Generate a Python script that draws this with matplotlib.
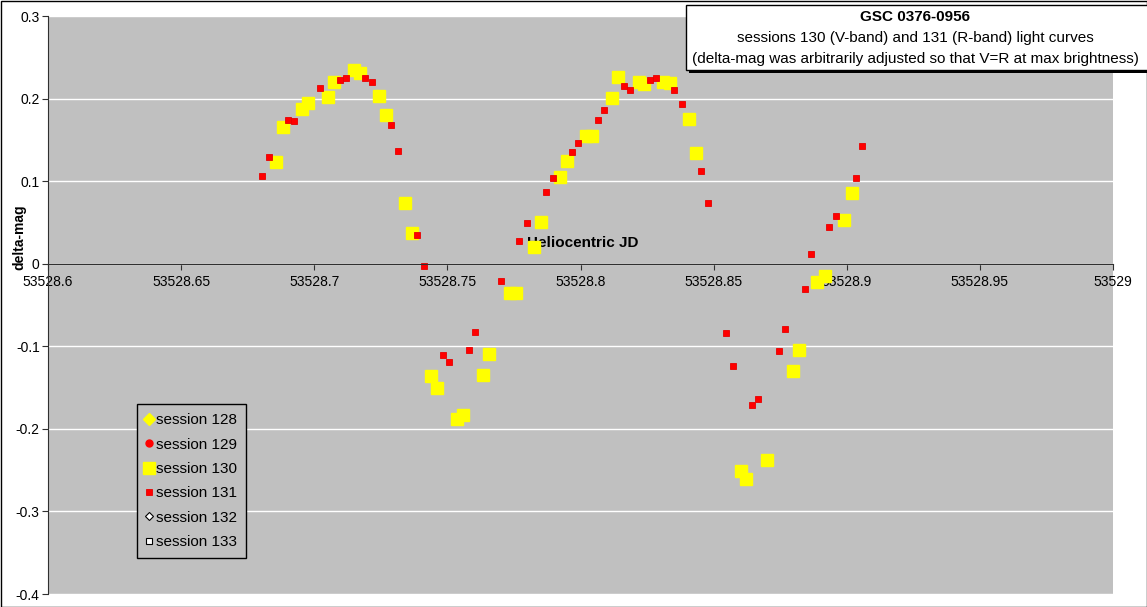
import numpy as np
import matplotlib
matplotlib.use('Agg')
import matplotlib.pyplot as plt
from matplotlib.patches import Rectangle

plt.rcParams['font.family'] = ['Liberation Sans', 'DejaVu Sans']

# session 130 (V-band), yellow squares
jd_130 = [53528.6858, 53528.6884, 53528.6955, 53528.6978, 53528.7053, 53528.7076,
          53528.7151, 53528.7173, 53528.7245, 53528.7271, 53528.7342, 53528.7369,
          53528.7440, 53528.7462, 53528.7538, 53528.7560, 53528.7635, 53528.7658,
          53528.7734, 53528.7756, 53528.7826, 53528.7853, 53528.7923, 53528.7951,
          53528.8022, 53528.8044, 53528.8120, 53528.8142, 53528.8218, 53528.8240,
          53528.8311, 53528.8337, 53528.8409, 53528.8435, 53528.8603, 53528.8623,
          53528.8702, 53528.8799, 53528.8822, 53528.8888, 53528.8920, 53528.8988,
          53528.9018]
mag_130 = [0.1236, 0.1659, 0.1877, 0.1941, 0.2022, 0.2203,
           0.2340, 0.2312, 0.2034, 0.1804, 0.0740, 0.0369,
           -0.1364, -0.1509, -0.1880, -0.1836, -0.1352, -0.1098,
           -0.0360, -0.0360, 0.0208, 0.0510, 0.1054, 0.1248,
           0.1542, 0.1550, 0.2010, 0.2264, 0.2195, 0.2174,
           0.2203, 0.2183, 0.1755, 0.1345, -0.2509, -0.2606,
           -0.2380, -0.1304, -0.1050, -0.0227, -0.0148, 0.0534,
           0.0861]

# session 131 (R-band), red squares
jd_131 = [53528.6804, 53528.6830, 53528.6902, 53528.6923, 53528.7021, 53528.7097,
          53528.7118, 53528.7190, 53528.7217, 53528.7287, 53528.7315, 53528.7386,
          53528.7411, 53528.7484, 53528.7506, 53528.7580, 53528.7603, 53528.7702,
          53528.7770, 53528.7798, 53528.7870, 53528.7896, 53528.7967, 53528.7990,
          53528.8065, 53528.8088, 53528.8163, 53528.8185, 53528.8261, 53528.8283,
          53528.8353, 53528.8381, 53528.8452, 53528.8478, 53528.8548, 53528.8571,
          53528.8646, 53528.8668, 53528.8745, 53528.8767, 53528.8843, 53528.8865,
          53528.8935, 53528.8961, 53528.9033, 53528.9059]
mag_131 = [0.1067, 0.1296, 0.1735, 0.1723, 0.2122, 0.2222,
           0.2252, 0.2252, 0.2195, 0.1678, 0.1364, 0.0348,
           -0.0022, -0.1106, -0.1195, -0.1050, -0.0825, -0.0208,
           0.0281, 0.0493, 0.0865, 0.1037, 0.1352, 0.1466,
           0.1735, 0.1865, 0.2150, 0.2106, 0.2222, 0.2252,
           0.2106, 0.1937, 0.1122, 0.0735, -0.0837, -0.1236,
           -0.1707, -0.1635, -0.1062, -0.0792, -0.0308, 0.0123,
           0.0450, 0.0578, 0.1034, 0.1424]

# sessions with no points in this window
jd_128, mag_128 = [], []
jd_129, mag_129 = [], []
jd_132, mag_132 = [], []
jd_133, mag_133 = [], []

x_ticks = np.arange(53528.6, 53529.0001, 0.05)
x_labels = ['53528.6', '53528.65', '53528.7', '53528.75', '53528.8',
            '53528.85', '53528.9', '53528.95', '53529']
y_ticks = np.arange(-0.4, 0.3001, 0.1)
y_labels = ['-0.4', '-0.3', '-0.2', '-0.1', '0', '0.1', '0.2', '0.3']

fig = plt.figure(figsize=(11.47, 6.07), dpi=100)
ax = fig.add_axes([48/1147, 13/607, 1065/1147, 578/607])
ax.set_facecolor('#C0C0C0')

ax.plot(jd_128, mag_128, ls='none', marker='D', ms=6.5, color='#FFFF00',
        mec='#FFFF00', label='session 128')
ax.plot(jd_129, mag_129, ls='none', marker='o', ms=5, color='#FF0000',
        mec='#FF0000', label='session 129')
ax.plot(jd_130, mag_130, ls='none', marker='s', ms=8, color='#FFFF00',
        mec='#FFFF00', label='session 130')
ax.plot(jd_131, mag_131, ls='none', marker='s', ms=5, color='#FF0000',
        mec='#E80000', mew=0.6, label='session 131')
ax.plot(jd_132, mag_132, ls='none', marker='D', ms=4, color='white',
        mec='black', mew=0.8, label='session 132')
ax.plot(jd_133, mag_133, ls='none', marker='s', ms=4.5, color='white',
        mec='black', mew=0.8, label='session 133')

ax.set_xlim(53528.6, 53529.0)
ax.set_ylim(-0.4, 0.3)
ax.set_xticks(x_ticks)
ax.set_xticklabels(x_labels)
ax.set_yticks(y_ticks)
ax.set_yticklabels(y_labels)

ax.grid(True, axis='y', color='white', lw=1)
ax.set_axisbelow(True)

ax.spines['bottom'].set_position(('data', 0))
ax.spines['top'].set_visible(False)
ax.spines['right'].set_visible(False)
ax.spines['left'].set_color('#303030')
ax.spines['bottom'].set_color('#303030')
ax.tick_params(axis='x', direction='out', length=4, pad=4, labelsize=10,
               color='#303030')
ax.tick_params(axis='y', direction='out', length=4, pad=2, labelsize=10,
               color='#303030')

ax.set_xlabel('Heliocentric JD', fontweight='bold', fontsize=11)
ax.xaxis.set_label_coords(0.502, 0.607)
ax.xaxis.label.set_va('center')
ax.set_ylabel('delta-mag', fontweight='bold', fontsize=10)
ax.yaxis.set_label_coords(-0.0204, 0.618)

leg = ax.legend(loc='upper left', bbox_to_anchor=(0.0836, 0.3287),
                borderaxespad=0, fontsize=11, frameon=True, fancybox=False,
                handlelength=0.4, handletextpad=0.25, borderpad=0.6,
                labelspacing=0.68)
leg.get_frame().set_facecolor('#C0C0C0')
leg.get_frame().set_edgecolor('black')
leg.get_frame().set_linewidth(1)
leg.get_frame().set_alpha(1)

# outer chart border
fig.patches.append(Rectangle((0.5/1147, 0.5/607), 1 - 1/1147, 1 - 1/607,
                             transform=fig.transFigure, fill=False,
                             edgecolor='black', lw=1))

# title box with shadow
fig.patches.append(Rectangle((689/1147, 1 - 73/607), 470/1147, 66/607,
                             transform=fig.transFigure, facecolor='black',
                             edgecolor='none', zorder=5))
fig.patches.append(Rectangle((686/1147, 1 - 70/607), 470/1147, 65/607,
                             transform=fig.transFigure, facecolor='white',
                             edgecolor='black', lw=1, zorder=6))
fig.text(0.798, 1 - 17/607, 'GSC 0376-0956', ha='center', va='center',
         fontsize=11, fontweight='bold', zorder=7)
fig.text(0.798, 1 - 38/607, 'sessions 130 (V-band) and 131 (R-band) light curves',
         ha='center', va='center', fontsize=11, zorder=7)
fig.text(0.798, 1 - 59/607,
         '(delta-mag was arbitrarily adjusted so that V=R at max brightness)',
         ha='center', va='center', fontsize=11, zorder=7)

fig.savefig('out.png', dpi=100)
